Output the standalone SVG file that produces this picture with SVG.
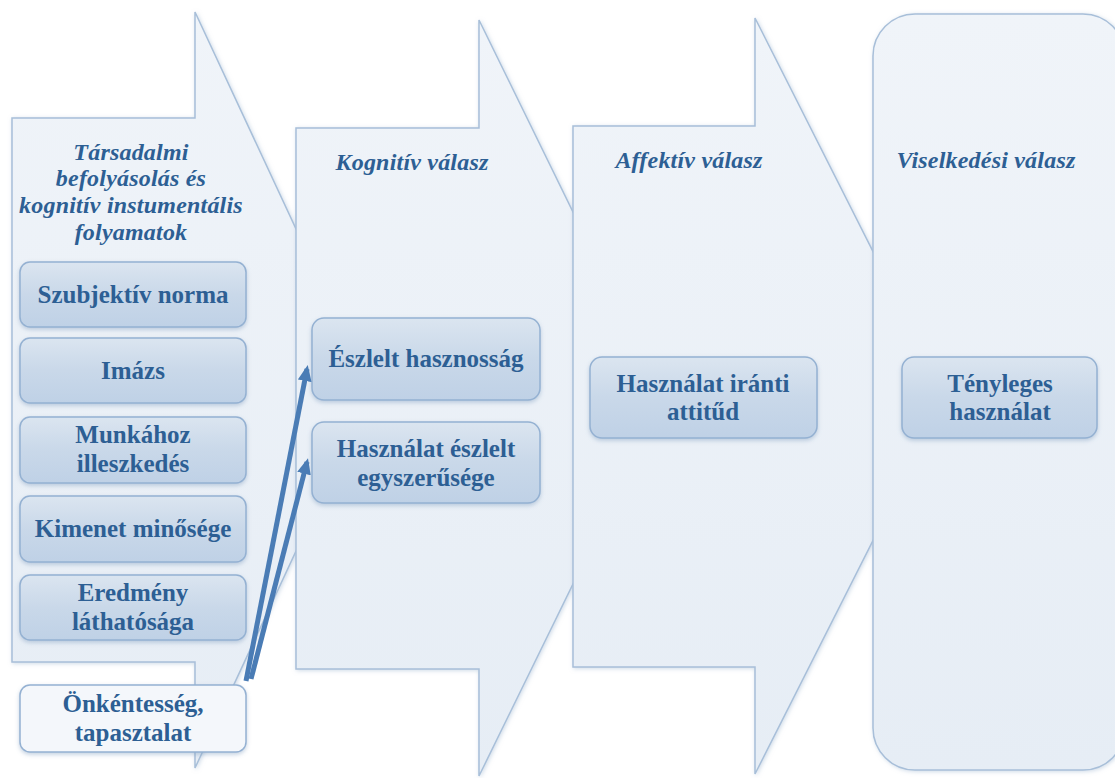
<svg xmlns="http://www.w3.org/2000/svg" width="1115" height="778" viewBox="0 0 1115 778">
<defs>
<linearGradient id="gArrow" x1="0" y1="0" x2="0" y2="1">
<stop offset="0" stop-color="#f0f4f9"/>
<stop offset="1" stop-color="#e6edf5"/>
</linearGradient>
<linearGradient id="gBox" x1="0" y1="0" x2="0" y2="1">
<stop offset="0" stop-color="#dbe5f0"/>
<stop offset="0.5" stop-color="#c9d8e9"/>
<stop offset="1" stop-color="#bfd1e6"/>
</linearGradient>
<filter id="sh" x="-10%" y="-10%" width="120%" height="130%">
<feDropShadow dx="0" dy="2" stdDeviation="2" flood-color="#7f9cbd" flood-opacity="0.45"/>
</filter>
<filter id="shA" x="-10%" y="-10%" width="120%" height="120%">
<feDropShadow dx="1" dy="1" stdDeviation="2" flood-color="#9fb6d0" flood-opacity="0.5"/>
</filter>
<marker id="ah" viewBox="0 0 16 14" refX="12" refY="7" markerWidth="16" markerHeight="14" markerUnits="userSpaceOnUse" orient="auto">
<path d="M0,0 L16,7 L0,14 Z" fill="#4a7cb5"/>
</marker>
</defs>
<style>
.arrow{fill:url(#gArrow);stroke:#a8bfd9;stroke-width:1.5;filter:url(#shA)}
.box{fill:url(#gBox);stroke:#94b1d2;stroke-width:1.5;filter:url(#sh)}
.t{font-family:"Liberation Serif","Times New Roman",serif;font-weight:bold;font-size:25px;fill:#2d5f94;text-anchor:middle}
.h{font-family:"Liberation Serif","Times New Roman",serif;font-weight:bold;font-style:italic;font-size:24px;fill:#2d5f94;text-anchor:middle;letter-spacing:0.2px}
.conn{stroke:#4a7cb5;stroke-width:5;fill:none;marker-end:url(#ah)}
</style>
<rect width="1115" height="778" fill="#ffffff"/>

<g id="stage1">
<path class="arrow" d="M12,118 H195 V12 L371,390 L195,768 V662 H12 Z"/>
<text class="h" x="131" y="160">Társadalmi</text>
<text class="h" x="131" y="186">befolyásolás és</text>
<text class="h" x="131" y="213">kognitív instumentális</text>
<text class="h" x="131" y="240">folyamatok</text>
</g>
<g id="stage2">
<path class="arrow" d="M296,128 H479 V20 L664,398 L479,776 V669 H296 Z"/>
<text class="h" x="412" y="170">Kognitív válasz</text>
</g>
<g id="stage3">
<path class="arrow" d="M573,126 H755 V18 L946,396 L755,774 V667 H573 Z"/>
<text class="h" x="689" y="168">Affektív válasz</text>
</g>
<g id="stage4">
<rect class="arrow" x="873" y="14" width="252" height="756" rx="42"/>
<text class="h" x="986" y="168">Viselkedési válasz</text>
</g>

<g id="n-szubjektiv"><rect class="box" x="20" y="262" width="226" height="65" rx="10"/><text class="t" x="133" y="303">Szubjektív norma</text></g>
<g id="n-imazs"><rect class="box" x="20" y="338" width="226" height="65" rx="10"/><text class="t" x="133" y="379">Imázs</text></g>
<g id="n-munkahoz"><rect class="box" x="20" y="417" width="226" height="66" rx="10"/><text class="t" x="133" y="443">Munkához</text><text class="t" x="133" y="472">illeszkedés</text></g>
<g id="n-kimenet"><rect class="box" x="20" y="496" width="226" height="66" rx="10"/><text class="t" x="133" y="537">Kimenet minősége</text></g>
<g id="n-eredmeny"><rect class="box" x="20" y="575" width="226" height="65" rx="10"/><text class="t" x="133" y="601">Eredmény</text><text class="t" x="133" y="630">láthatósága</text></g>
<g id="n-onkentesseg"><rect class="box" x="20" y="685" width="226" height="67" rx="10" style="fill:#f4f7fb"/><text class="t" x="133" y="712">Önkéntesség,</text><text class="t" x="133" y="741">tapasztalat</text></g>

<g id="n-eszlelt"><rect class="box" x="312" y="318" width="228" height="82" rx="12"/><text class="t" x="426" y="367">Észlelt hasznosság</text></g>
<g id="n-egyszeruseg"><rect class="box" x="312" y="422" width="228" height="81" rx="12"/><text class="t" x="426" y="457">Használat észlelt</text><text class="t" x="426" y="486">egyszerűsége</text></g>
<g id="n-attitud"><rect class="box" x="590" y="357" width="227" height="81" rx="12"/><text class="t" x="703" y="392">Használat iránti</text><text class="t" x="703" y="420">attitűd</text></g>
<g id="n-tenyleges"><rect class="box" x="902" y="357" width="195" height="81" rx="12"/><text class="t" x="1000" y="392">Tényleges</text><text class="t" x="1000" y="420">használat</text></g>

<g id="connectors">
<line class="conn" x1="246" y1="681" x2="307" y2="369"/>
<line class="conn" x1="251" y1="679" x2="307" y2="462"/>
</g>
</svg>
